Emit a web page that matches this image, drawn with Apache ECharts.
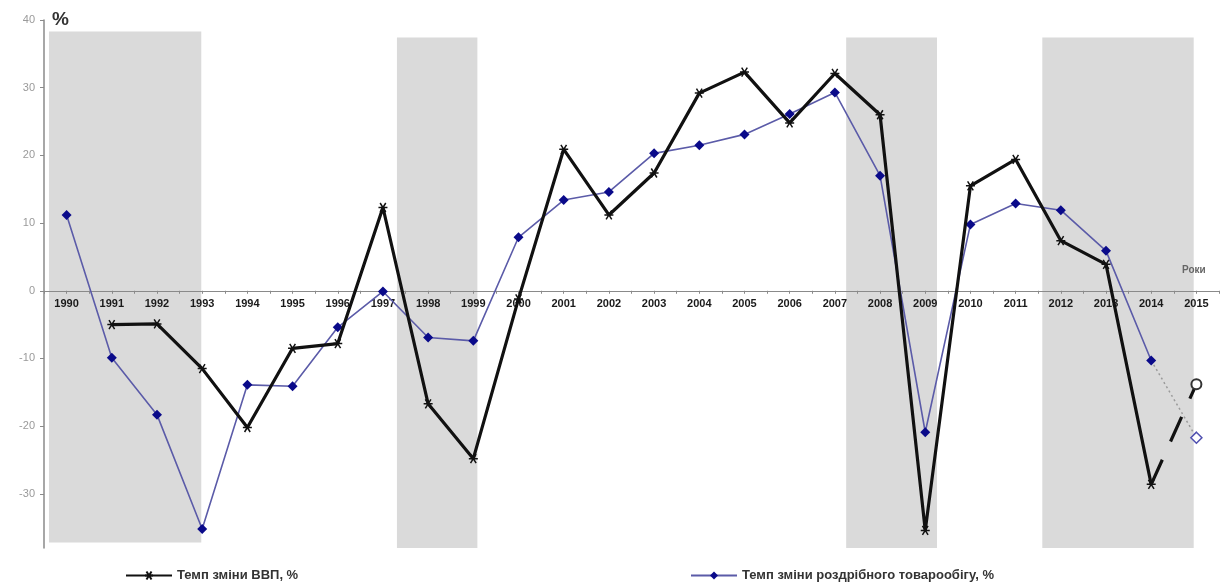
<!DOCTYPE html>
<html>
<head>
<meta charset="utf-8">
<script src="https://cdn.jsdelivr.net/npm/echarts@6/dist/echarts.min.js"></script>
<style>
html,body{margin:0;padding:0;background:#fff;}
#chart{width:1227px;height:586px;}
</style>
</head>
<body>
<div id="chart"></div>
<script>
// ---- data ----
var years = [1990,1991,1992,1993,1994,1995,1996,1997,1998,1999,2000,2001,2002,2003,2004,2005,2006,2007,2008,2009,2010,2011,2012,2013,2014];
var gdp = [null,-5.0,-4.9,-11.5,-20.2,-8.5,-7.8,12.3,-16.7,-24.8,-1.2,20.9,11.2,17.4,29.2,32.3,24.8,32.1,26.0,-35.4,15.5,19.4,7.4,3.9,-28.6];
var retail = [11.2,-9.9,-18.3,-35.2,-13.9,-14.1,-5.4,-0.1,-6.9,-7.4,7.9,13.4,14.6,20.3,21.5,23.1,26.1,29.3,17.0,-20.9,9.8,12.9,11.9,5.9,-10.3];
var forecastYears = [2014, 2015];
var gdpForecast = [-28.6, -13.8];
var retailForecast = [-10.3, -21.7];
var bandStart = [1989.61, 1997.31, 2007.25, 2011.59];
var bandEnd = [1992.98, 1999.09, 2009.26, 2014.94];
var bandTop = [38.3, 37.4, 37.4, 37.4];
var bandBottom = [-37.2, -38, -38, -38];
var yTicks = [-30,-20,-10,0,10,20,30,40];
var gdpName = 'Темп зміни ВВП, %';
var retailName = 'Темп зміни роздрібного товарообігу, %';

var Y_MIN = -38, Y_MAX = 40, GRID_TOP = 20, GRID_H = 528;
var zeroOffset = -GRID_H * (0 - Y_MIN) / (Y_MAX - Y_MIN);

function pairs(xs, ys){ return xs.map(function(x,i){ return [x, ys[i]]; }); }
function forecastPairs(xs, ys){
  return xs.map(function(x,i){
    var item = {value: [x, ys[i]]};
    if (i === 0) item.symbol = 'none';
    return item;
  });
}
var bands = bandStart.map(function(s,i){ return [s, bandEnd[i], bandTop[i], bandBottom[i]]; });

var crossPath = 'path://M0,0L10,10M10,0L0,10M-3,5L13,5';

var chart = echarts.init(document.getElementById('chart'));
chart.setOption({
  animation: false,
  backgroundColor: '#ffffff',
  grid: {left: 44, right: 8, top: GRID_TOP, height: GRID_H, containLabel: false},
  xAxis: {
    type: 'value', min: 1989.5, max: 2015.5, interval: 0.5, z: 1,
    offset: zeroOffset,
    axisLine: {onZero: false, lineStyle: {color: '#8a8a8a', width: 1.2}},
    axisTick: {show: true, length: 3, lineStyle: {color: '#8a8a8a'}},
    splitLine: {show: false},
    axisLabel: {
      margin: 8, color: '#1a1a1a', fontFamily: 'Liberation Sans', fontWeight: 'bold', fontSize: 11,
      formatter: function(v){ return Number.isInteger(v) ? String(v) : ''; }
    }
  },
  yAxis: {
    type: 'value', min: Y_MIN, max: Y_MAX, z: 1,
    axisLine: {show: true, onZero: false, lineStyle: {color: '#8a8a8a', width: 1.5}},
    axisTick: {show: true, length: 4, customValues: yTicks, lineStyle: {color: '#8a8a8a'}},
    splitLine: {show: false},
    axisLabel: {customValues: yTicks, margin: 9, color: '#9a9a9a', fontFamily: 'Liberation Sans', fontSize: 11}
  },
  legend: [
    {data: [gdpName], left: 120, top: 564, itemWidth: 46, itemHeight: 10, itemGap: 4,
     textStyle: {color: '#333', fontFamily: 'Liberation Sans', fontWeight: 'bold', fontSize: 13}},
    {data: [retailName], left: 685, top: 564, itemWidth: 46, itemHeight: 10, itemGap: 4,
     textStyle: {color: '#333', fontFamily: 'Liberation Sans', fontWeight: 'bold', fontSize: 13}}
  ],
  graphic: [
    {type: 'text', left: 52, top: 10, z: 10, style: {text: '%', fill: '#333', font: 'bold 19px "Liberation Sans"'}},
    {type: 'text', left: 1182, top: 265, z: 10, style: {text: 'Роки', fill: '#666', font: 'bold 10px "Liberation Sans"'}}
  ],
  series: [
    {
      type: 'custom', name: 'bands', z: 0, silent: true,
      data: bands,
      renderItem: function(params, api){
        var p0 = api.coord([api.value(0), api.value(2)]);
        var p1 = api.coord([api.value(1), api.value(3)]);
        return {type: 'rect', shape: {x: p0[0], y: p0[1], width: p1[0]-p0[0], height: p1[1]-p0[1]},
                style: {fill: '#dadada'}};
      }
    },
    {
      type: 'line', name: retailName, z: 3, data: pairs(years, retail),
      symbol: 'diamond', symbolSize: 10,
      lineStyle: {color: '#5b5ba8', width: 1.6},
      itemStyle: {color: '#0a0a8a'}
    },
    {
      type: 'line', name: gdpName, z: 4, data: pairs(years, gdp), connectNulls: false,
      symbol: crossPath, symbolSize: 9,
      lineStyle: {color: '#111', width: 3.2},
      itemStyle: {color: '#111', borderColor: '#111', borderWidth: 1.5}
    },
    {
      type: 'line', name: 'retailForecast', z: 2, data: forecastPairs(forecastYears, retailForecast),
      symbol: 'diamond', symbolSize: 11, showAllSymbol: true,
      lineStyle: {color: '#9a9a9a', width: 1.5, type: [2, 3]},
      itemStyle: {color: '#fff', borderColor: '#5050b0', borderWidth: 1.5}
    },
    {
      type: 'line', name: 'gdpForecast', z: 2, data: forecastPairs(forecastYears, gdpForecast),
      symbol: 'circle', symbolSize: 10, showAllSymbol: true,
      lineStyle: {color: '#111', width: 3.2, type: [27, 20]},
      itemStyle: {color: '#fff', borderColor: '#333', borderWidth: 2}
    }
  ]
});
</script>
</body>
</html>
